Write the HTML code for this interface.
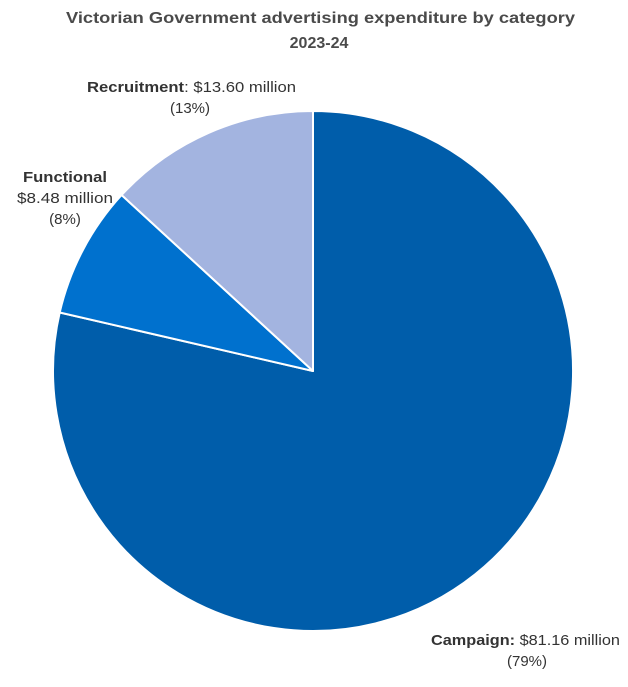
<!DOCTYPE html>
<html><head><meta charset="utf-8"><style>
html,body{margin:0;padding:0;background:#fff;}
body{width:628px;height:682px;overflow:hidden;font-family:"Liberation Sans",sans-serif;}
</style></head><body>
<svg width="628" height="682" viewBox="0 0 628 682" xmlns="http://www.w3.org/2000/svg" font-family="Liberation Sans, sans-serif">
<text x="66" y="23" textLength="509" lengthAdjust="spacingAndGlyphs" font-size="16" font-weight="bold" fill="#4a4a4a">Victorian Government advertising expenditure by category</text>
<text x="319" y="48" text-anchor="middle" font-size="16" font-weight="bold" fill="#4a4a4a">2023-24</text>
<g stroke="#fff" stroke-width="2" stroke-linejoin="round">
<path d="M313,371 L313,111 A260,260 0 1 1 59.7,312.5 Z" fill="#005DAA"/>
<path d="M313,371 L59.7,312.5 A260,260 0 0 1 121.6,195 Z" fill="#0071CE"/>
<path d="M313,371 L121.6,195 A260,260 0 0 1 313,111 Z" fill="#A3B4E0"/>
</g>
<g font-size="15" fill="#333">
<text x="87" y="92" textLength="209" lengthAdjust="spacingAndGlyphs"><tspan font-weight="bold">Recruitment</tspan>: $13.60 million</text>
<text x="190" y="113" text-anchor="middle">(13%)</text>
<text x="23" y="182" textLength="84" lengthAdjust="spacingAndGlyphs" font-weight="bold">Functional</text>
<text x="17" y="203" textLength="96" lengthAdjust="spacingAndGlyphs">$8.48 million</text>
<text x="65" y="224" text-anchor="middle">(8%)</text>
<text x="431" y="645" textLength="189" lengthAdjust="spacingAndGlyphs"><tspan font-weight="bold">Campaign:</tspan> $81.16 million</text>
<text x="527" y="666" text-anchor="middle">(79%)</text>
</g>
</svg>
</body></html>
